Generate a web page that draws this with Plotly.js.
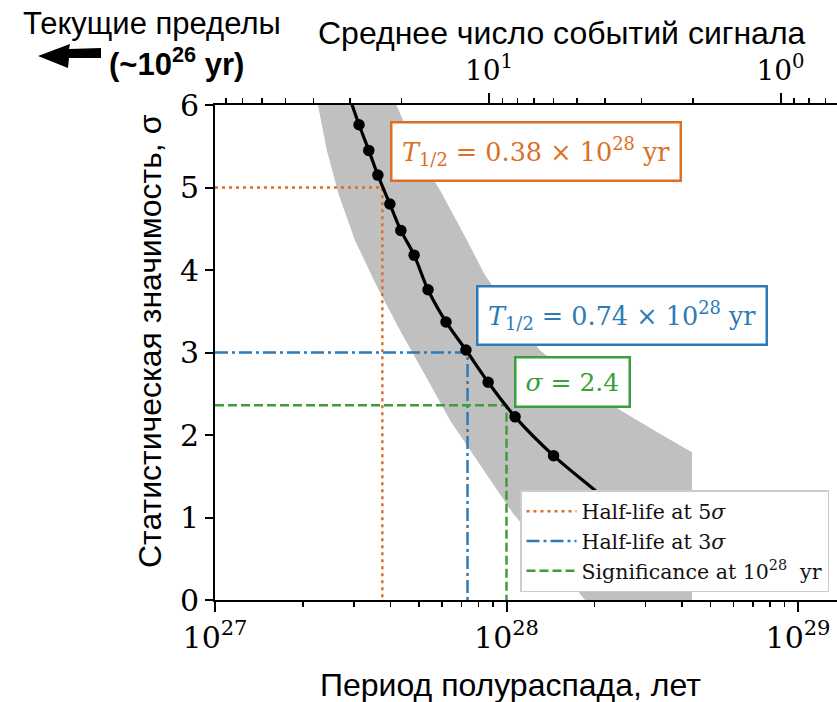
<!DOCTYPE html>
<html><head><meta charset="utf-8">
<script src="https://cdn.plot.ly/plotly-3.0.1.min.js"></script>
<style>body{margin:0;padding:0;background:#fff}#chart{width:837px;height:702px}</style>
</head><body><div id="chart"></div>
<script>
// ---- data ----
const markerT = [3.12e27, 3.37e27, 3.62e27, 3.98e27, 4.34e27, 4.82e27, 5.38e27, 6.20e27, 7.26e27, 8.65e27, 1.07e28, 1.45e28];
const markerS = [5.76, 5.45, 5.15, 4.80, 4.48, 4.18, 3.76, 3.37, 3.03, 2.64, 2.22, 1.75];
const lineT = [2.89e27, 3.12e27, 3.37e27, 3.62e27, 3.98e27, 4.34e27, 4.82e27, 5.38e27, 6.20e27, 7.26e27, 8.65e27, 1.07e28, 1.45e28, 2.01e28, 2.6e28];
const lineS = [6.10, 5.76, 5.45, 5.15, 4.80, 4.48, 4.18, 3.76, 3.37, 3.03, 2.64, 2.22, 1.75, 1.33, 1.0];
// band: upper-left edge (top to bottom) and lower-right edge (top to bottom)
const bandLeftT = [2.22e27, 2.256e27, 2.42e27, 2.66e27, 3.02e27, 3.57e27, 4.31e27, 5.25e27, 6.40e27, 8.11e27, 1.053e28, 1.39e28, 1.86e28];
const bandLeftS = [6.12, 6.0, 5.45, 4.91, 4.36, 3.82, 3.27, 2.73, 2.18, 1.64, 1.05, 0.545, 0.0];
const bandRightT = [4.05e27, 4.21e27, 4.90e27, 5.91e27, 7.10e27, 8.43e27, 1.05e28, 1.30e28, 1.80e28, 2.46e28, 3.30e28, 4.33e28, 4.33e28];
const bandRightS = [6.12, 6.0, 5.45, 4.97, 4.45, 3.94, 3.45, 3.03, 2.62, 2.30, 2.03, 1.79, 0.0];
const T5 = 3.75e27, S5 = 5;        // half-life at 5 sigma
const T3 = 7.35e27, S3 = 3;        // half-life at 3 sigma
const T28 = 1e28, S28 = 2.36;      // significance at 1e28 yr
const xMin = 1e27;
const countsScale = 8.71e28;       // mean signal counts = countsScale / T
const bottomTicks = [1e27, 1e28, 1e29];
const bottomTickText = ['10<sup>27</sup>', '10<sup>28</sup>', '10<sup>29</sup>'];
const topTicks = [10, 1];
const topTickText = ['10<sup>1</sup>', '10<sup>0</sup>'];
const yTicks = [0, 1, 2, 3, 4, 5, 6];

// ---- colours / styling ----
const cOrange = '#dc6f26', cBlue = '#2c7bb6', cGreen = '#3a9e3a', cBand = '#c0c0c0';
const serif = 'DejaVu Serif, Liberation Serif, serif';
const sans = 'Liberation Sans, Arial, sans-serif';

const bottomMinor = [];
for (let d = 27; d <= 28; d++) for (let k = 2; k <= 9; k++) bottomMinor.push(k * Math.pow(10, d));
const topMinor = [];
for (let d = -1; d <= 1; d++) for (let k = 2; k <= 9; k++) topMinor.push(k * Math.pow(10, d));

const bandX = bandLeftT.concat(bandRightT.slice().reverse());
const bandY = bandLeftS.concat(bandRightS.slice().reverse());

const traces = [
  {x: bandX, y: bandY, type: 'scatter', mode: 'lines', fill: 'toself', fillcolor: cBand,
   line: {width: 0, color: cBand}, showlegend: false, hoverinfo: 'skip'},
  {x: [xMin, T5, T5], y: [S5, S5, 0], type: 'scatter', mode: 'lines', name: 'Half-life at 5<i>σ</i>',
   line: {color: cOrange, width: 2.5, dash: '3px,4px'}, legendgroup: 'a'},
  {x: [xMin, T3, T3], y: [S3, S3, 0], type: 'scatter', mode: 'lines', name: 'Half-life at 3<i>σ</i>',
   line: {color: cBlue, width: 2.5, dash: '13px,4px,3px,4px'}, legendgroup: 'b'},
  {x: [xMin, T28, T28], y: [S28, S28, 0], type: 'scatter', mode: 'lines', name: 'Significance at 10<sup>28</sup>  yr',
   line: {color: cGreen, width: 2.5, dash: '9px,4px'}, legendgroup: 'c'},
  {x: lineT, y: lineS, type: 'scatter', mode: 'lines', line: {color: 'black', width: 3.2, shape: 'spline'},
   showlegend: false, hoverinfo: 'skip'},
  {x: markerT, y: markerS, type: 'scatter', mode: 'markers', marker: {color: 'black', size: 11.5},
   showlegend: false},
  {x: markerT.map(t => countsScale / t), y: markerS, xaxis: 'x2', type: 'scatter', mode: 'markers',
   marker: {opacity: 0}, showlegend: false, hoverinfo: 'skip'}
];

const L = 215, R = 837, TOP = 105, BOT = 600;
const W = R - L, H = BOT - TOP;
const px = x => (x - L) / W, py = y => (BOT - y) / H;
const logLeft = 27, logRight = 27 + W / 291.5;

function arrowPath(pts) {
  return 'M ' + pts.map(p => px(p[0]) + ',' + py(p[1])).join(' L ') + ' Z';
}

const layout = {
  width: 837, height: 702,
  margin: {l: L, r: 837 - R, t: TOP, b: 702 - BOT},
  paper_bgcolor: 'white', plot_bgcolor: 'white',
  showlegend: true,
  xaxis: {type: 'log', range: [logLeft, logRight], showgrid: false, zeroline: false,
    showline: true, linecolor: 'black', linewidth: 2,
    ticks: 'outside', ticklen: 10, tickwidth: 2, tickcolor: 'black',
    tickmode: 'array', tickvals: bottomTicks, ticktext: bottomTickText,
    tickfont: {family: serif, size: 30, color: 'black'},
    minor: {tickmode: 'array', tickvals: bottomMinor, ticks: 'outside', ticklen: 5, tickwidth: 1.5, tickcolor: 'black', showgrid: false}},
  xaxis2: {type: 'log', overlaying: 'x', side: 'top', anchor: 'y',
    range: [Math.log10(countsScale) - logLeft, Math.log10(countsScale) - logRight],
    showgrid: false, zeroline: false, showline: true, linecolor: 'black', linewidth: 2,
    ticks: 'outside', ticklen: 10, tickwidth: 2, tickcolor: 'black', ticklabelstandoff: 2,
    tickmode: 'array', tickvals: topTicks, ticktext: topTickText,
    tickfont: {family: serif, size: 28, color: 'black'},
    minor: {tickmode: 'array', tickvals: topMinor, ticks: 'outside', ticklen: 5, tickwidth: 1.5, tickcolor: 'black', showgrid: false}},
  yaxis: {range: [0, 6], showgrid: false, zeroline: false, showline: true, linecolor: 'black', linewidth: 2,
    ticks: 'outside', ticklen: 8, tickwidth: 2, tickcolor: 'black',
    tickmode: 'array', tickvals: yTicks, tickfont: {family: serif, size: 30, color: 'black'}},
  legend: {x: px(520), y: py(490), xanchor: 'left', yanchor: 'top', bgcolor: 'white',
    bordercolor: '#cccccc', borderwidth: 1.5, font: {family: serif, size: 20.5, color: '#111'},
    itemwidth: 50, traceorder: 'grouped', tracegroupgap: 0},
  annotations: [
    {xref: 'paper', yref: 'paper', x: px(536), y: py(152), xanchor: 'center', yanchor: 'middle',
     text: '<i>T</i><sub>1/2</sub> = 0.38 × 10<sup>28</sup> yr', showarrow: false,
     font: {family: serif, size: 25.5, color: cOrange}, bgcolor: 'white', bordercolor: cOrange, borderwidth: 2.5, borderpad: 9.5},
    {xref: 'paper', yref: 'paper', x: px(622), y: py(315), xanchor: 'center', yanchor: 'middle',
     text: '<i>T</i><sub>1/2</sub> = 0.74 × 10<sup>28</sup> yr', showarrow: false,
     font: {family: serif, size: 25.5, color: cBlue}, bgcolor: 'white', bordercolor: cBlue, borderwidth: 2.5, borderpad: 9.5},
    {xref: 'paper', yref: 'paper', x: px(572), y: py(382), xanchor: 'center', yanchor: 'middle',
     text: '<i>σ</i> = 2.4', showarrow: false,
     font: {family: serif, size: 25, color: cGreen}, bgcolor: 'white', bordercolor: cGreen, borderwidth: 2.5, borderpad: 9},
    {xref: 'paper', yref: 'paper', x: px(562), y: py(33), xanchor: 'center', yanchor: 'middle',
     text: 'Среднее число событий сигнала', showarrow: false, font: {family: sans, size: 32, color: 'black'}},
    {xref: 'paper', yref: 'paper', x: px(510), y: py(685), xanchor: 'center', yanchor: 'middle',
     text: 'Период полураспада, лет', showarrow: false, font: {family: sans, size: 32, color: 'black'}},
    {xref: 'paper', yref: 'paper', x: px(150), y: py(341), xanchor: 'center', yanchor: 'middle', textangle: -90,
     text: 'Статистическая значимость, σ', showarrow: false, font: {family: sans, size: 32, color: 'black'}},
    {xref: 'paper', yref: 'paper', x: px(152), y: py(23), xanchor: 'center', yanchor: 'middle',
     text: 'Текущие пределы', showarrow: false, font: {family: sans, size: 31, color: 'black'}},
    {xref: 'paper', yref: 'paper', x: px(176), y: py(62), xanchor: 'center', yanchor: 'middle',
     text: '<b>(~10<sup>26</sup> yr)</b>', showarrow: false, font: {family: sans, size: 31, color: 'black'}}
  ],
  shapes: [
    {type: 'path', xref: 'paper', yref: 'paper', fillcolor: 'black', line: {width: 0},
     path: arrowPath([[38, 56], [70, 44], [69, 49], [101, 48], [101, 58], [69, 58], [68, 68]])}
  ]
};

Plotly.newPlot('chart', traces, layout, {displayModeBar: false, staticPlot: true});
</script></body></html>
